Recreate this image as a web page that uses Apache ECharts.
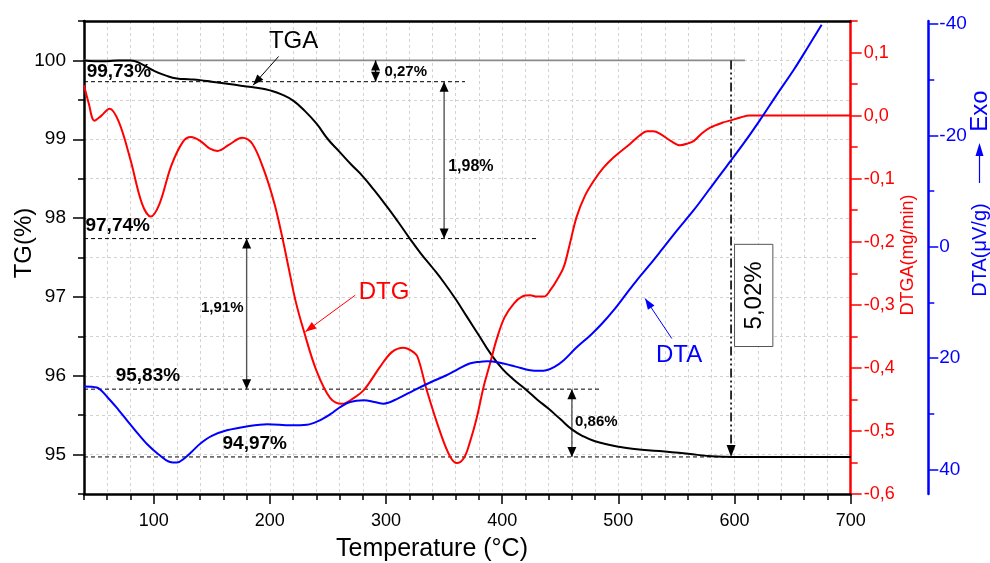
<!DOCTYPE html>
<html>
<head>
<meta charset="utf-8">
<script src="https://cdn.jsdelivr.net/npm/echarts@6/dist/echarts.min.js"></script>
<style>html,body{margin:0;padding:0;background:#fff}#c{width:990px;height:563px}</style>
</head>
<body>
<div id="c"></div>
<script>
// ---------- data ----------
const tgTemps = [40,50,60,70,80,90,100,110,120,130,140,150,160,170,180,190,200,210,220,230,240,250,260,270,280,290,300,310,320,330,340,350,360,370,380,390,400,410,420,430,440,450,460,470,480,490,500,520,540,560,580,600,650,700];
const tgValues = [100.0,99.99,99.99,100.0,100.0,99.95,99.87,99.81,99.77,99.76,99.75,99.73,99.71,99.69,99.67,99.65,99.62,99.57,99.49,99.36,99.20,99.00,98.84,98.68,98.53,98.35,98.16,97.96,97.75,97.55,97.37,97.18,96.97,96.74,96.51,96.28,96.09,95.95,95.83,95.70,95.58,95.45,95.32,95.23,95.17,95.13,95.10,95.06,95.04,95.01,94.98,94.97,94.97,94.97];

const dtgTemps = [40,44,49,55,62,70,80,90,97.5,105,115,125,132,140,148,155,165,176,185,195,204,210,216,222,229,240,252,262,272,281,295,305,315,322,327,335,347,355,361,367,372,378,384,390,395,402,410,417,424,430,436,442,447,453,458,464,471,479,487,496,510,518,525,530,536,545,553,560,565,572,579,590,596,605,613,650,700];
const dtgValues = [0.048,0.02,-0.008,0.0,0.011,-0.01,-0.07,-0.14,-0.160,-0.14,-0.08,-0.042,-0.034,-0.04,-0.052,-0.056,-0.046,-0.035,-0.045,-0.087,-0.140,-0.187,-0.24,-0.293,-0.340,-0.404,-0.448,-0.457,-0.448,-0.435,-0.398,-0.375,-0.368,-0.373,-0.382,-0.435,-0.504,-0.540,-0.551,-0.543,-0.519,-0.48,-0.430,-0.39,-0.356,-0.32,-0.298,-0.287,-0.285,-0.287,-0.287,-0.275,-0.261,-0.240,-0.205,-0.161,-0.128,-0.103,-0.083,-0.066,-0.045,-0.032,-0.025,-0.025,-0.029,-0.040,-0.047,-0.044,-0.040,-0.028,-0.019,-0.011,-0.008,-0.003,0.0,0.0,0.0];

const dtaTemps = [40,51,60,70,77,86,94,104,114,120,126,133,140,150,163,180,198,218,232,242,252,260,269,281,290,298,310,324,338,352,362,372,380,387,397,407,416,424,432,438,445,453,463,476,486,496,506,516,526,536,550,565,579,593,608,622,636,651,663,675];
const dtaValues = [25.1,25.3,27.0,29.4,31.2,33.5,35.4,37.3,38.7,38.8,38.1,36.8,35.4,34.0,33.0,32.3,31.9,32.1,32.0,31.3,30.1,28.9,27.9,27.6,27.9,28.2,27.3,25.8,24.4,23.1,22.0,21.0,20.7,20.6,20.8,21.3,21.8,22.2,22.3,22.2,21.6,20.4,18.3,15.9,13.8,11.4,8.7,6.0,3.5,0.9,-2.8,-6.6,-10.5,-14.4,-18.6,-22.8,-27.2,-31.8,-35.8,-39.9];

// tick labels
const xTickLabels = [100,200,300,400,500,600,700];
const tgTickLabels = [95,96,97,98,99,100];
const dtgTickLabels = [-0.6,-0.5,-0.4,-0.3,-0.2,-0.1,0.0,0.1];
const dtaTickLabels = [-40,-20,0,20,40];
const dtaMinorTickValues = [-30,-10,10,30];

// mass-loss annotation values
const fullLevel = 100;
const fullLineEnd = 609;
const refLevels = [99.73, 97.74, 95.83, 94.97];
const refLineEnds = [368, 431, 484, 600];
const refLabels = ['99,73%', '97,74%', '95,83%', '94,97%'];
const refLabelTemps = [70, 69, 95, 187];
const stepTemps = [291, 350, 180, 460];
const stepFrom = [100, 99.73, 97.74, 95.83];
const stepTo = [99.73, 97.74, 95.83, 94.97];
const stepLabels = ['0,27%', '1,98%', '1,91%', '0,86%'];
const stepLabelTemps = [317, 373, 159, 481];
const stepLabelTg = [99.857, 98.65, 96.86, 95.42];
const totalTemp = 597;
const totalLabel = '5,02%';
const totalBoxT = [600, 633];
const totalBoxTg = [97.667, 96.371];
// curve name callouts [textT, textY, tailT, tailY, tipT, tipY]
const tgaCallout = [220.4, 100.244, 207.5, 100.05, 185.5, 99.684];
const dtgCallout = [298.3, -0.2796, 273.5, -0.2848, 230.5, -0.3429];
const dtaCallout = [552.3, 19.5, 546, 16.5, 523, 9.3];

// ---------- rendering ----------
const FONT = '"Liberation Sans", Arial, Helvetica, sans-serif';
const RED = '#ff0000', BLUE = '#0000ff';
const pair = (xs, ys) => xs.map((x, i) => [x, ys[i]]);

function arrowHead(tip, tail, len, half, color) {
  const dx = tip[0] - tail[0], dy = tip[1] - tail[1];
  const d = Math.hypot(dx, dy) || 1;
  const ux = dx / d, uy = dy / d;
  const bx = tip[0] - ux * len, by = tip[1] - uy * len;
  return {type: 'polygon', shape: {points: [[tip[0], tip[1]], [bx - uy * half, by + ux * half], [bx + uy * half, by - ux * half]]}, style: {fill: color}};
}
function seg(a, b, style) {
  return {type: 'line', shape: {x1: a[0], y1: a[1], x2: b[0], y2: b[1]}, style: style};
}
function txt(p, text, font, color, align, vAlign, rotation) {
  return {type: 'text', x: p[0], y: p[1], rotation: rotation || 0,
    style: {text: text, x: 0, y: 0, font: font, fill: color, align: align || 'center', verticalAlign: vAlign || 'middle'}};
}
function callout(api, cfg, label, color) {
  const c = (x, y) => api.coord([x, y]);
  const t = c(cfg[0], cfg[1]), tail = c(cfg[2], cfg[3]), tip = c(cfg[4], cfg[5]);
  return [
    txt(t, label, '24px ' + FONT, color),
    seg(tail, tip, {stroke: color, lineWidth: 1}),
    arrowHead(tip, tail, 11, 4, color)
  ];
}

function renderTg(params, api) {
  const c = (x, y) => api.coord([x, y]);
  const kids = [];
  const xStart = 40;
  kids.push(seg(c(xStart, fullLevel), c(fullLineEnd, fullLevel), {stroke: '#8a8a8a', lineWidth: 1.6}));
  const labelLift = [0, 3, 4, 4];
  refLevels.forEach((lv, i) => {
    kids.push(seg(c(xStart, lv), c(refLineEnds[i], lv), {stroke: '#000', lineWidth: 1, lineDash: [4, 3]}));
    const p = c(refLabelTemps[i], lv);
    kids.push(txt([p[0], p[1] - labelLift[i]], refLabels[i], 'bold 19px ' + FONT, '#000', 'center', 'bottom'));
  });
  const stepFont = ['bold 15px ', 'bold 16px ', 'bold 15px ', 'bold 15px '];
  stepTemps.forEach((t, i) => {
    const a = c(t, stepFrom[i]), b = c(t, stepTo[i]);
    kids.push(seg(a, b, {stroke: i === 0 ? '#000' : '#555', lineWidth: 1.4}));
    kids.push(arrowHead(a, b, 10, 4.5, '#000'));
    kids.push(arrowHead(b, a, 10, 4.5, '#000'));
    kids.push(txt(c(stepLabelTemps[i], stepLabelTg[i]), stepLabels[i], stepFont[i] + FONT, '#000'));
  });
  // total loss arrow
  const ta = c(totalTemp, fullLevel), tb = c(totalTemp, refLevels[3]);
  kids.push(seg(ta, tb, {stroke: '#000', lineWidth: 1.6, lineDash: [9, 3, 2, 3, 2, 3]}));
  kids.push(arrowHead(tb, ta, 12, 4.5, '#000'));
  const b0 = c(totalBoxT[0], totalBoxTg[0]), b1 = c(totalBoxT[1], totalBoxTg[1]);
  kids.push({type: 'rect', shape: {x: b0[0], y: b0[1], width: b1[0] - b0[0], height: b1[1] - b0[1]}, style: {fill: '#fff', stroke: '#555', lineWidth: 1}});
  kids.push(txt([(b0[0] + b1[0]) / 2 + 1, (b0[1] + b1[1]) / 2], totalLabel, '24px ' + FONT, '#000', 'center', 'middle', Math.PI / 2));
  callout(api, tgaCallout, 'TGA', '#000').forEach(k => kids.push(k));
  return {type: 'group', children: kids};
}
function renderDtg(params, api) {
  return {type: 'group', children: callout(api, dtgCallout, 'DTG', RED)};
}
function renderDta(params, api) {
  return {type: 'group', children: callout(api, dtaCallout, 'DTA', BLUE)};
}

const chart = echarts.init(document.getElementById('c'), null, {renderer: 'canvas'});
const tickStyle = c => ({color: c, width: 1.5});
const noSplit = {show: false};

const option = {
  animation: false,
  backgroundColor: '#ffffff',
  textStyle: {fontFamily: FONT},
  grid: {left: 84, right: 139.3, top: 21, bottom: 69, containLabel: false},
  xAxis: [
    {type: 'value', min: 40, max: 700, interval: 20, position: 'bottom',
      axisLine: {show: true, onZero: false, lineStyle: {color: '#000', width: 2.5}},
      axisTick: {show: true, length: 6, lineStyle: tickStyle('#000')},
      axisLabel: {show: true, margin: 18, fontSize: 18, color: '#000', fontFamily: FONT,
        formatter: v => (Math.round(v) % 100 === 0 ? String(Math.round(v)) : '')},
      splitLine: {show: true, lineStyle: {color: '#d2d2d2', type: [3, 3], width: 1}}},
    {type: 'value', min: 40, max: 700, position: 'bottom',
      axisLine: {show: false, onZero: false},
      axisTick: {show: true, length: 10, customValues: xTickLabels, lineStyle: tickStyle('#000')},
      axisLabel: {show: false}, splitLine: noSplit},
    {type: 'value', min: 40, max: 700, position: 'top',
      axisLine: {show: true, onZero: false, lineStyle: {color: '#000', width: 2.5}},
      axisTick: {show: false}, axisLabel: {show: false}, splitLine: noSplit}
  ],
  yAxis: [
    {type: 'value', min: 94.5, max: 100.5, interval: 0.5, position: 'left',
      axisLine: {show: true, onZero: false, lineStyle: {color: '#000', width: 2.5}},
      axisTick: {show: true, length: 6, lineStyle: tickStyle('#000')},
      axisLabel: {margin: 18, fontSize: 19, color: '#000', fontFamily: FONT,
        formatter: v => (Math.abs(v - Math.round(v)) < 1e-6 ? String(Math.round(v)) : '')},
      splitLine: {show: true, lineStyle: {color: '#d2d2d2', type: [3, 3], width: 1}}},
    {type: 'value', min: 94.5, max: 100.5, position: 'left',
      axisLine: {show: false, onZero: false},
      axisTick: {show: true, length: 11, customValues: tgTickLabels, lineStyle: tickStyle('#000')},
      axisLabel: {show: false}, splitLine: noSplit},
    {type: 'value', min: -0.6, max: 0.15, interval: 0.05, position: 'right',
      axisLine: {show: true, onZero: false, lineStyle: {color: RED, width: 2.5}},
      axisTick: {show: true, length: 7, lineStyle: tickStyle(RED)},
      axisLabel: {margin: 13, fontSize: 18, color: RED, fontFamily: FONT,
        formatter: v => { const r = Math.round(v * 100); if (r % 10 !== 0) return ''; return (r / 100).toFixed(1).replace('.', ','); }},
      splitLine: noSplit},
    {type: 'value', min: -0.6, max: 0.15, position: 'right',
      axisLine: {show: false, onZero: false},
      axisTick: {show: true, length: 11, customValues: dtgTickLabels, lineStyle: tickStyle(RED)},
      axisLabel: {show: false}, splitLine: noSplit},
    {type: 'value', min: -40.56, max: 44.44, inverse: true, position: 'right', offset: 77.6,
      axisLine: {show: true, onZero: false, lineStyle: {color: BLUE, width: 2.5}},
      axisTick: {show: true, length: 10, customValues: dtaTickLabels, lineStyle: tickStyle(BLUE)},
      axisLabel: {show: true, customValues: dtaTickLabels, margin: 11, fontSize: 19, color: BLUE, fontFamily: FONT},
      splitLine: noSplit},
    {type: 'value', min: -40.56, max: 44.44, inverse: true, position: 'right', offset: 77.6,
      axisLine: {show: false, onZero: false},
      axisTick: {show: true, length: 6, customValues: dtaMinorTickValues, lineStyle: tickStyle(BLUE)},
      axisLabel: {show: false}, splitLine: noSplit}
  ],
  series: [
    {type: 'custom', name: 'tgNotes', xAxisIndex: 0, yAxisIndex: 0, data: [[40, 100]], clip: false, silent: true, z: 1, renderItem: renderTg},
    {type: 'line', name: 'TGA', xAxisIndex: 0, yAxisIndex: 0, data: pair(tgTemps, tgValues), showSymbol: false, smooth: 0.5, z: 3,
      lineStyle: {color: '#000', width: 2}},
    {type: 'line', name: 'DTG', xAxisIndex: 0, yAxisIndex: 2, data: pair(dtgTemps, dtgValues), showSymbol: false, smooth: 0.35, z: 3,
      lineStyle: {color: RED, width: 2}},
    {type: 'line', name: 'DTA', xAxisIndex: 0, yAxisIndex: 4, data: pair(dtaTemps, dtaValues), showSymbol: false, smooth: 0.35, z: 3,
      lineStyle: {color: BLUE, width: 2}},
    {type: 'custom', name: 'dtgNote', xAxisIndex: 0, yAxisIndex: 2, data: [[300, 0]], clip: false, silent: true, z: 4, renderItem: renderDtg},
    {type: 'custom', name: 'dtaNote', xAxisIndex: 0, yAxisIndex: 4, data: [[550, 0]], clip: false, silent: true, z: 4, renderItem: renderDta}
  ],
  graphic: [
    {type: 'text', x: 24, y: 243, rotation: Math.PI / 2, style: {text: 'TG(%)', font: '24px ' + FONT, fill: '#000', align: 'center', verticalAlign: 'middle'}},
    {type: 'text', x: 432, y: 549, style: {text: 'Temperature (°C)', font: '25px ' + FONT, fill: '#000', align: 'center', verticalAlign: 'middle'}},
    {type: 'text', x: 908, y: 255, rotation: Math.PI / 2, style: {text: 'DTGA(mg/min)', font: '18px ' + FONT, fill: RED, align: 'center', verticalAlign: 'middle'}},
    {type: 'text', x: 980, y: 250, rotation: Math.PI / 2, style: {text: 'DTA(μV/g)', font: '20px ' + FONT, fill: BLUE, align: 'center', verticalAlign: 'middle'}},
    {type: 'line', shape: {x1: 979.5, y1: 183, x2: 979.5, y2: 152}, style: {stroke: BLUE, lineWidth: 1.2}},
    {type: 'polygon', shape: {points: [[979.5, 143], [975.5, 156], [983.5, 156]]}, style: {fill: BLUE}},
    {type: 'text', x: 980, y: 111, rotation: Math.PI / 2, style: {text: 'Exo', font: '24px ' + FONT, fill: BLUE, align: 'center', verticalAlign: 'middle'}}
  ]
};
chart.setOption(option);
</script>
</body>
</html>
